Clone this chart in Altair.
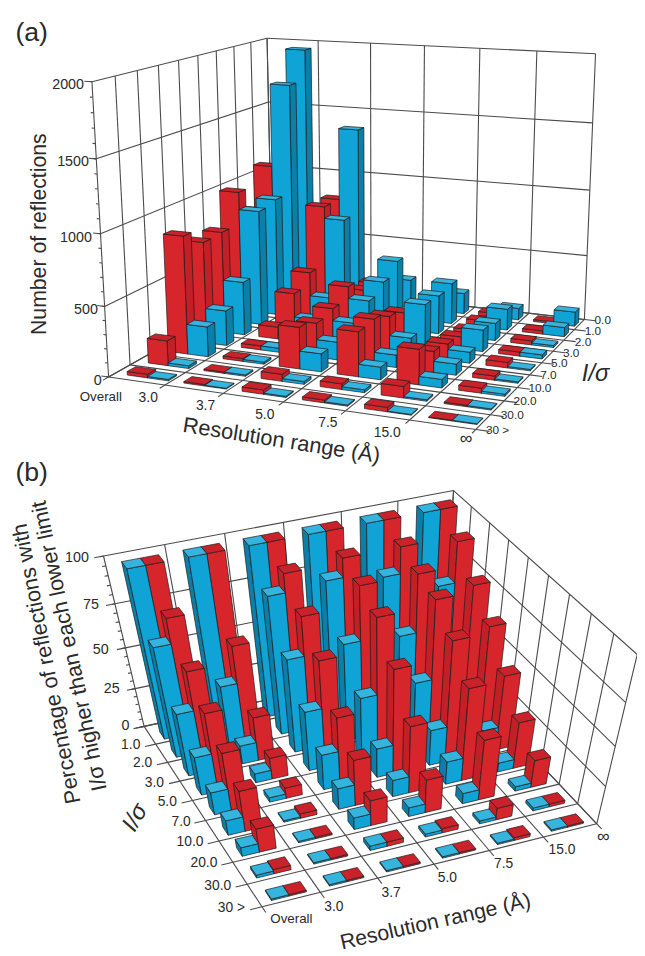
import numpy as np
import altair as alt

rows = ["0.0", "1.0", "2.0", "3.0", "5.0", "7.0", "10.0", "20.0", "30.0"]
cols = ["Overall", "3.0", "3.7", "5.0", "7.5", "15.0"]

red_a = [
    [800, 1090, 800, 1000, 760, 750, 860, 180, 25],
    [810, 810, 360, 270, 90, 30, 20, 10, 10],
    [150, 250, 270, 370, 280, 250, 300, 50, 30],
    [80, 100, 100, 220, 270, 330, 320, 40, 20],
    [30, 50, 60, 90, 120, 150, 250, 80, 30],
    [15, 25, 30, 30, 40, 30, 35, 10, 5],
]
cyan_a = [
    [1950, 1720, 900, 870, 400, 260, 220, 20, 10],
    [1365, 720, 180, 90, 40, 30, 15, 10, 5],
    [220, 440, 350, 280, 190, 130, 130, 20, 8],
    [160, 310, 290, 300, 130, 90, 90, 20, 8],
    [90, 160, 130, 160, 80, 80, 60, 10, 5],
    [110, 70, 15, 30, 10, 10, 15, 8, 5],
]
cyan_b = [
    [100, 68, 40, 25, 15, 10, 6, 2, 1],
    [100, 38, 12, 6, 3, 1, 1, 1, 1],
    [100, 83, 58, 38, 23, 14, 8, 3, 1],
    [100, 85, 60, 39, 19, 11, 6, 2, 1],
    [100, 81, 58, 41, 23, 15, 7, 2, 1],
    [100, 70, 45, 30, 15, 6, 3, 2, 1],
]
red_b = [
    [100, 82, 63, 50, 38, 27, 16, 3, 1],
    [100, 60, 28, 14, 7, 3, 1, 1, 1],
    [100, 93, 80, 66, 44, 30, 17, 3, 1],
    [100, 95, 90, 83, 65, 43, 22, 3, 1],
    [100, 95, 90, 86, 74, 58, 39, 8, 2],
    [100, 92, 78, 65, 47, 30, 18, 2, 1],
]

# view of each box: (col, row, height fraction) -> picture position
view_a = [
    (0, 0, 0, 112, 375), (1, 0, 0, 166, 384), (2, 0, 0, 225, 393), (3, 0, 0, 283, 403),
    (4, 0, 0, 353, 410), (5, 0, 0, 415, 418), (6, 0, 0, 478, 427), (6, 9, 0, 589, 317),
    (6, 3, 0, 527, 387), (6, 6, 0, 563, 350), (0, 0, 1, 93, 77), (0, 0, .5, 102, 230),
    (6, 9, 1, 603, 49), (0, 9, 1, 270, 32), (3, 9, 1, 430, 40),
]
view_b = [
    (0, 0, 0, 265, 913), (1, 0, 0, 325, 898), (2, 0, 0, 382, 883), (3, 0, 0, 440, 869),
    (4, 0, 0, 495, 856), (5, 0, 0, 551, 843), (6, 0, 0, 603, 827), (0, 9, 0, 145, 728),
    (0, 3, 0, 222, 844), (0, 6, 0, 183, 786), (0, 9, 1, 105, 557), (6, 9, 1, 461, 491),
    (6, 0, 1, 645, 655), (3, 9, 1, 285, 524),
]


def fit(pts):
    A = []
    for X, Y, Z, u, v in pts:
        A.append([X, Y, Z, 1, 0, 0, 0, 0, -u * X, -u * Y, -u * Z, -u])
        A.append([0, 0, 0, 0, X, Y, Z, 1, -v * X, -v * Y, -v * Z, -v])
    return np.linalg.svd(np.array(A, float))[2][-1].reshape(3, 4)


def proj(P, x, y, z):
    p = P @ np.array([x, y, z, 1.0])
    return [float(p[0] / p[2]), float(p[1] / p[2])]


def poly(P, pts, fill):
    ring = [proj(P, *q) for q in pts]
    ring.append(ring[0])
    return {"type": "Feature", "properties": {"fill": fill},
            "geometry": {"type": "Polygon", "coordinates": [ring[::-1]]}}


def seg(P, a, b):
    return {"type": "Feature", "properties": {},
            "geometry": {"type": "LineString", "coordinates": [proj(P, *a), proj(P, *b)]}}


RED = ("#d7252c", "#c21f27", "#c9222a")
CYAN = ("#0fa3d6", "#0b7fa8", "#35b4de")


def box(P, x0, x1, y0, y1, z, pal, side_x):
    out = [
        poly(P, [(side_x, y0, 0), (side_x, y1, 0), (side_x, y1, z), (side_x, y0, z)], pal[1]),
        poly(P, [(x0, y0, 0), (x1, y0, 0), (x1, y0, z), (x0, y0, z)], pal[0]),
        poly(P, [(x0, y0, z), (x1, y0, z), (x1, y1, z), (x0, y1, z)], pal[2]),
    ]
    return out


def bars(P, first, second, pal1, pal2, zmax, right_side, edges, depth):
    feats = []
    col_order = range(6) if right_side else range(5, -1, -1)
    for r in range(8, -1, -1):
        ri = 8 - r
        for c in col_order:
            pair = [(c + edges[0], c + edges[1], first[c][ri], pal1),
                    (c + edges[1], c + edges[2], second[c][ri], pal2)]
            if not right_side:
                pair = pair[::-1]
            for x0, x1, v, pal in pair:
                feats += box(P, x0, x1, r + depth[0], r + depth[1], v / zmax, pal, x1 if right_side else x0)
    return feats


def minor_levels():
    return [i / 20 for i in range(21)]


def frame_a(P):
    L = []
    for y in range(10):
        L.append(seg(P, (0, y, 0), (6, y, 0)))
        L.append(seg(P, (6, y, 0), (6.2, y, 0)))
        L.append(seg(P, (0, y, 0), (0, y, 1)))
    for x in range(7):
        L.append(seg(P, (x, 0, 0), (x, 9, 0)))
        L.append(seg(P, (x, 0, 0), (x, -.25, 0)))
        L.append(seg(P, (x, 9, 0), (x, 9, 1)))
    for z in [0, .25, .5, .75, 1]:
        L.append(seg(P, (0, 0, z), (0, 9, z)))
        L.append(seg(P, (0, 9, z), (6, 9, z)))
        L.append(seg(P, (0, 0, z), (-.13, 0, z)))
    for z in minor_levels():
        L.append(seg(P, (0, 0, z), (-.05, 0, z)))
    return L


def frame_b(P):
    L = []
    for y in range(10):
        L.append(seg(P, (0, y, 0), (6, y, 0)))
        L.append(seg(P, (0, y, 0), (-.2, y, 0)))
        L.append(seg(P, (6, y, 0), (6, y, 1)))
    for x in range(7):
        L.append(seg(P, (x, 0, 0), (x, 9, 0)))
        L.append(seg(P, (x, 0, 0), (x, -.25, 0)))
        L.append(seg(P, (x, 9, 0), (x, 9, 1)))
    for z in [0, .25, .5, .75, 1]:
        L.append(seg(P, (0, 9, z), (6, 9, z)))
        L.append(seg(P, (6, 0, z), (6, 9, z)))
        L.append(seg(P, (0, 9, z), (-.15, 9, z)))
    for z in minor_levels():
        L.append(seg(P, (0, 9, z), (-.06, 9, z)))
    return L


Pa = fit(view_a)
Pb = fit(view_b)

lines = frame_a(Pa) + frame_b(Pb)
faces = (bars(Pa, red_a, cyan_a, RED, CYAN, 2000, True, (.22, .58, .95), (.3, .7))
         + bars(Pb, cyan_b, red_b, CYAN, RED, 100, False, (.2, .5, .8), (.15, .55)))

t = []


def put(text, x, y, size=13, angle=0, align="center", style="normal"):
    t.append({"t": text, "x": x, "y": y, "s": size, "a": angle % 360, "al": align, "st": style})


put("(a)", 32, 27, 27)
put("(b)", 32, 473, 27)
put("Number of reflections", 40, 231, 21.5, -90)
put("Resolution range (Å)", 285, 440, 22, 9)
put("I/σ", 603, 373, 24, 0, style="italic")
put("∞", 472, 439, 18)
put("Overall", 102, 396, 13.5)
for s, x, y in zip(cols[1:], [150, 208, 268, 332, 392], [397, 405, 414, 422, 432]):
    put(s, x, y, 14)
for s, x, y in zip(rows + ["30 >"],
                   [602, 592, 582, 570, 558, 547, 535, 520, 507, 492],
                   [318, 329, 340, 351, 362, 374, 387, 400, 414, 429]):
    put(s, x, y, 12, align="left")
for s, x, y in zip(["2000", "1500", "1000", "500", "0"], [85, 90, 93, 99, 103], [80, 158, 235, 308, 380]):
    put(s, x, y, 14.5, align="right")

put("Percentage of reflections with", 47, 666, 22, -101)
put("I/σ higher than each lower limit", 70, 648, 22, -102)
put("I/σ", 137, 822, 24, -60, style="italic")
put("Resolution range (Å)", 441, 928, 21.5, -12.6)
put("Overall", 295, 925, 13.5)
put("∞", 611, 842, 18)
for s, x, y in zip(cols[1:], [338, 396, 453, 510, 569], [912, 898, 883, 869, 855]):
    put(s, x, y, 14)
for s, x, y in zip(["100", "75", "50", "25", "0"], [90, 100, 110, 121, 131], [559, 607, 652, 692, 729]):
    put(s, x, y, 14.5, align="right")
for s, x, y in zip(rows[1:] + ["30 >"], [142, 154, 166, 179, 193, 206, 220, 234, 248],
                   [748, 767, 787, 806, 826, 847, 868, 891, 913]):
    put(s, x, y, 14, align="right")

view = dict(type="identity", scale=1, translate=[-8, -8])

line_layer = alt.Chart(alt.Data(values=lines)).mark_geoshape(
    filled=False, stroke="#4a4a4a", strokeWidth=1.1
).project(**view)
face_layer = alt.Chart(alt.Data(values=faces)).mark_geoshape(
    stroke="#1c1c1c", strokeWidth=0.7
).encode(fill=alt.Fill("properties.fill:N", scale=None)).project(**view)

text_layers = []
for al, st in [("left", "normal"), ("center", "normal"), ("right", "normal"), ("center", "italic")]:
    sub = [d for d in t if d["al"] == al and d["st"] == st]
    text_layers.append(
        alt.Chart(alt.Data(values=sub)).mark_text(
            align=al, baseline="middle", font="Liberation Sans", color="#2a2a2a", fontStyle=st
        ).encode(
            longitude="x:Q", latitude="y:Q", text="t:N",
            size=alt.Size("s:Q", scale=None),
            angle=alt.Angle("a:Q", scale=None),
        ).project(**view)
    )

chart = alt.layer(line_layer, face_layer, *text_layers).properties(
    width=637, height=948, padding=0, background="white",
    autosize=alt.AutoSizeParams(type="none"),
).configure_view(stroke=None)

chart.save("out.html", embed_options={"renderer": "svg", "actions": False})
